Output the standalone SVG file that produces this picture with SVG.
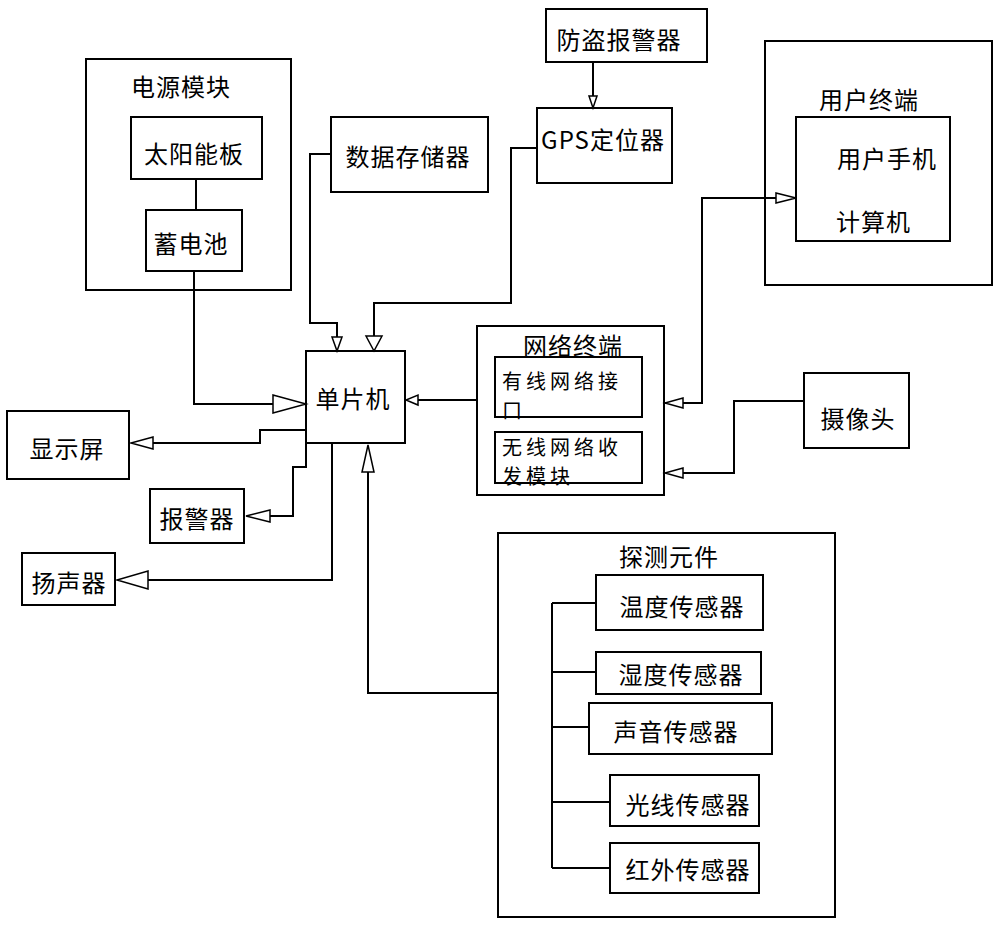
<svg xmlns="http://www.w3.org/2000/svg" width="1000" height="927" viewBox="0 0 1000 927">
<style>
rect{fill:#fff;stroke:#000;stroke-width:2}
text{font-family:"Noto Sans CJK SC","Liberation Sans",sans-serif;font-size:24px;fill:#000;dominant-baseline:central;text-anchor:middle;letter-spacing:1px}
text.s{text-anchor:start}
text.n{text-anchor:start;font-size:20px;letter-spacing:4px}
.c path{fill:none;stroke:#000;stroke-width:2}
.c polygon{fill:#fff;stroke:#000;stroke-width:1.5}
</style>
<rect x="0" y="0" width="1000" height="927" style="stroke:none"/>
<g id="power">
<rect x="86" y="59" width="205" height="231"/>
<text x="181" y="85">电源模块</text>
<g id="solar"><rect x="131" y="117" width="131" height="62"/><text x="194" y="152">太阳能板</text></g>
<g id="battery"><rect x="146" y="210" width="96" height="61"/><text x="191" y="242">蓄电池</text></g>
</g>
<g id="storage"><rect x="331" y="117" width="157" height="75"/><text x="408" y="155">数据存储器</text></g>
<g id="antitheft"><rect x="546" y="9" width="161" height="53"/><text x="619" y="38">防盗报警器</text></g>
<g id="gps"><rect x="537" y="108" width="135" height="75"/><text x="603" y="138">GPS定位器</text></g>
<g id="user">
<rect x="765" y="41" width="227" height="244"/>
<text x="869" y="98">用户终端</text>
<rect x="796" y="117" width="154" height="124"/>
<text x="887" y="157">用户手机</text>
<text class="s" x="836" y="220">计算机</text>
</g>
<g id="mcu"><rect x="306" y="351" width="99" height="92"/><text x="353" y="397">单片机</text></g>
<g id="network">
<rect x="477" y="326" width="187" height="169"/>
<rect x="495" y="357" width="147" height="60"/>
<rect x="495" y="432" width="147" height="51"/>
<text x="573" y="344">网络终端</text>
<text class="n" x="502" y="380">有线网络接</text>
<text class="n" x="502" y="409">口</text>
<text class="n" x="502" y="446">无线网络收</text>
<text class="n" x="502" y="475">发模块</text>
</g>
<g id="camera"><rect x="804" y="373" width="105" height="75"/><text x="858" y="417">摄像头</text></g>
<g id="display"><rect x="7" y="411" width="122" height="68"/><text x="67" y="447">显示屏</text></g>
<g id="alarm"><rect x="150" y="489" width="94" height="54"/><text x="197" y="517">报警器</text></g>
<g id="speaker"><rect x="22" y="553" width="93" height="52"/><text x="69" y="581">扬声器</text></g>
<g id="detect">
<rect x="498" y="533" width="337" height="384"/>
<text x="669" y="555">探测元件</text>
<g id="temp"><rect x="596" y="575" width="167" height="55"/><text x="682" y="605">温度传感器</text></g>
<g id="humid"><rect x="596" y="652" width="165" height="42"/><text x="681" y="673">湿度传感器</text></g>
<g id="sound"><rect x="589" y="703" width="183" height="51"/><text x="676" y="730">声音传感器</text></g>
<g id="light"><rect x="610" y="775" width="149" height="51"/><text x="688" y="803">光线传感器</text></g>
<g id="ir"><rect x="610" y="843" width="149" height="50"/><text x="688" y="868">红外传感器</text></g>
</g>
<g id="connectors" class="c">
<path d="M196 179V210"/>
<path d="M194 271V404H273"/>
<polygon points="273,395 306,404 273,413"/>
<path d="M331 154H310V323H337V337"/>
<polygon points="332,337 342,337 337,351"/>
<path d="M537 148H511V303H374V336"/>
<polygon points="366,336 382,336 374,351"/>
<path d="M477 400H418"/>
<polygon points="418,395 418,405 406,400"/>
<path d="M306 430H260V443H153"/>
<polygon points="153,437 153,449 131,443"/>
<path d="M306 443V467H293V516H270"/>
<polygon points="270,510 270,522 246,516"/>
<path d="M332 443V580H148"/>
<polygon points="148,571 148,589 117,580"/>
<path d="M498 693H368V472"/>
<polygon points="362,472 374,472 368,445"/>
<path d="M593 62V96"/>
<polygon points="589,96 597,96 593,108"/>
<path d="M664 403H702V198H776"/>
<polygon points="776,193 776,203 796,198"/>
<path d="M702 403H683"/>
<polygon points="683,398 683,408 665,403"/>
<path d="M804 401H734V473H683"/>
<polygon points="683,468 683,478 665,473"/>
<path d="M552 603V868"/>
<path d="M552 603H596M552 672H596M552 727H589M552 802H610M552 868H610"/>
</g>
</svg>
